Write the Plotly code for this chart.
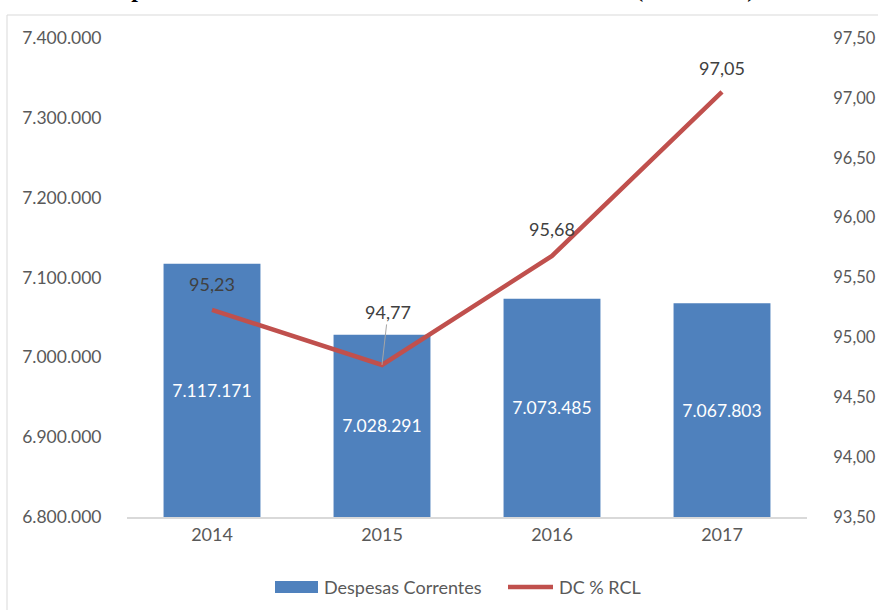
import plotly.graph_objects as go

# Annual current expenditure and its share of net current revenue
anos = ["2014", "2015", "2016", "2017"]
despesas_correntes = [7117171, 7028291, 7073485, 7067803]
dc_pct_rcl = [95.23, 94.77, 95.68, 97.05]
nomes_series = ["Despesas Correntes", "DC % RCL"]

BASE = 6800000
AZUL = "#4F81BD"
VERMELHO = "#C0504D"
CINZA_TXT = "#595959"
FONTE = "Lato"

# plot-area geometry in pixels (used for layout decorations only)
W, H = 878, 610
ML, MR, MT, MB = 127, 71, 38, 93
PW, PH = W - ML - MR, H - MT - MB


def px_x(px):
    return (px - ML) / PW


def px_y(py):
    return (H - MB - py) / PH


fig = go.Figure()

fig.add_trace(go.Bar(
    x=anos,
    y=[v - BASE for v in despesas_correntes],
    base=BASE,
    customdata=despesas_correntes,
    texttemplate="%{customdata:,.0f}",
    textposition="inside",
    insidetextanchor="middle",
    textfont=dict(family=FONTE, size=17.5, color="white"),
    marker=dict(color=AZUL, line=dict(width=0)),
    width=0.57,
    name=nomes_series[0],
    showlegend=False,
    yaxis="y",
))

fig.add_trace(go.Scatter(
    x=anos,
    y=dc_pct_rcl,
    mode="lines",
    line=dict(color=VERMELHO, width=4.5),
    name=nomes_series[1],
    showlegend=False,
    yaxis="y2",
))

# data labels for the percentage line (category axis: positions by index)
deslocamentos = [-26, None, -27, -24]
for i, (val, dy) in enumerate(zip(dc_pct_rcl, deslocamentos)):
    rotulo = f"{val:.2f}".replace(".", ",")
    if dy is None:
        fig.add_annotation(
            x=i, y=val, xref="x", yref="y2", text=rotulo,
            showarrow=True, arrowhead=0, arrowwidth=1, arrowcolor="#A6A6A6",
            ax=6, ay=-53, standoff=0,
            font=dict(family=FONTE, size=18, color="#404040"),
        )
    else:
        fig.add_annotation(
            x=i, y=val, xref="x", yref="y2", text=rotulo,
            showarrow=False, yshift=-dy,
            font=dict(family=FONTE, size=18, color="#404040"),
        )

# title running off the top edge
fig.add_annotation(
    xref="paper", yref="paper", x=0.438, y=1.071, yanchor="bottom",
    text="<b>Despesas Correntes Totais e Percentual sobre a RCL (2014-2017)</b>",
    showarrow=False,
    font=dict(family="Liberation Serif", size=24, color="black"),
)

# chart frame
fig.add_shape(
    type="rect", xref="paper", yref="paper",
    x0=px_x(7), y0=px_y(700), x1=px_x(900), y1=px_y(15),
    line=dict(color="#D9D9D9", width=1), layer="below",
)

# legend: wide swatch for the bars, line sample for the percentage
leg_y = 587
fig.add_shape(
    type="rect", xref="paper", yref="paper",
    x0=px_x(275), x1=px_x(318), y0=px_y(leg_y + 6), y1=px_y(leg_y - 6),
    fillcolor=AZUL, line=dict(width=0),
)
fig.add_shape(
    type="line", xref="paper", yref="paper",
    x0=px_x(508), x1=px_x(553), y0=px_y(leg_y), y1=px_y(leg_y),
    line=dict(color=VERMELHO, width=4.5),
)
for nome, x_txt in zip(nomes_series, [322, 557]):
    fig.add_annotation(
        xref="paper", yref="paper", x=px_x(x_txt), y=px_y(leg_y),
        xanchor="left", yanchor="middle", text=nome, showarrow=False,
        font=dict(family=FONTE, size=18, color=CINZA_TXT),
    )

fig.update_layout(
    width=W, height=H,
    margin=dict(l=ML, r=MR, t=MT, b=MB, autoexpand=False),
    paper_bgcolor="white", plot_bgcolor="white",
    separators=",.",
    showlegend=False,
    font=dict(family=FONTE, size=17.5, color=CINZA_TXT),
    xaxis=dict(
        type="category", showgrid=False, range=[-0.5, 3.5],
        showline=True, linecolor="#D9D9D9", linewidth=2,
        ticks="", tickfont=dict(family=FONTE, size=18, color=CINZA_TXT),
    ),
    yaxis=dict(
        range=[6800000, 7400000], dtick=100000, tickformat=",.0f",
        showgrid=False, zeroline=False, showline=False,
        ticks="outside", ticklen=21, tickcolor="rgba(0,0,0,0)",
        tickfont=dict(family=FONTE, size=17.5, color=CINZA_TXT),
    ),
    yaxis2=dict(
        range=[93.5, 97.5], dtick=0.5, tickformat=".2f",
        overlaying="y", side="right",
        showgrid=False, zeroline=False, showline=False,
        ticks="outside", ticklen=22, tickcolor="rgba(0,0,0,0)",
        tickfont=dict(family=FONTE, size=16.5, color=CINZA_TXT),
    ),
)

fig.write_html("out.html")
